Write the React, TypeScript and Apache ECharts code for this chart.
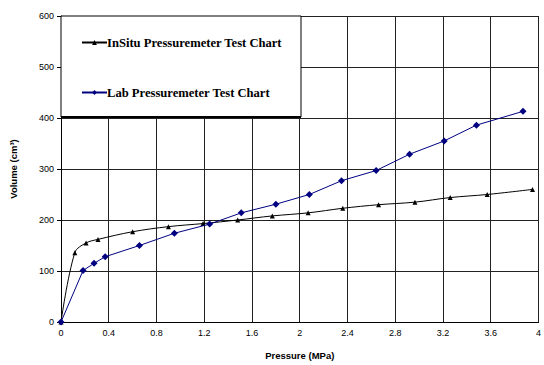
import React, { useEffect, useRef } from "react";
import * as echarts from "echarts";

const insituX = [0, 0.116, 0.21, 0.31, 0.6, 0.9, 1.19, 1.48, 1.77, 2.07, 2.36, 2.66, 2.965, 3.26, 3.57, 3.95];
const insituY = [0, 136, 155, 162, 177, 187, 193, 200, 208, 214, 223, 230, 235, 244, 250, 260];
const labX = [0, 0.185, 0.277, 0.37, 0.657, 0.95, 1.245, 1.51, 1.8, 2.08, 2.35, 2.64, 2.92, 3.21, 3.48, 3.87];
const labY = [0, 101, 115, 128, 150, 174, 192, 214, 231, 250, 277, 297, 329, 355, 386, 413];
const seriesNames = ["InSitu Pressuremeter Test Chart", "Lab Pressuremeter Test Chart"];
const xTitle = "Pressure (MPa)";
const yTitle = "Volume (cm³)";

export default function App() {
  const ref = useRef<HTMLDivElement>(null);
  useEffect(() => {
    const chart = echarts.init(ref.current!, null, { renderer: "svg" });
    const font = "'Liberation Sans', Arial, sans-serif";
    chart.setOption({
      animation: false,
      backgroundColor: "#fff",
      grid: { left: 61, right: 2, top: 16, bottom: 43, containLabel: false },
      xAxis: {
        type: "value",
        min: 0,
        max: 4,
        interval: 0.4,
        name: xTitle,
        nameLocation: "middle",
        nameGap: 28,
        nameTextStyle: { fontFamily: font, fontWeight: "bold", fontSize: 9.5, color: "#000" },
        axisLine: { show: true, lineStyle: { color: "#000", width: 1 } },
        axisTick: { show: false },
        axisLabel: { fontFamily: font, fontSize: 9, color: "#000", margin: 6, formatter: (v: number) => String(Math.round(v * 10) / 10) },
        splitLine: { show: true, lineStyle: { color: "#222", width: 1 } },
      },
      yAxis: {
        type: "value",
        min: 0,
        max: 600,
        interval: 100,
        name: yTitle,
        nameLocation: "middle",
        nameGap: 43,
        nameTextStyle: { fontFamily: font, fontWeight: "bold", fontSize: 9.5, color: "#000" },
        axisLine: { show: true, lineStyle: { color: "#000", width: 1 } },
        axisTick: { show: true, length: 4, lineStyle: { color: "#000" } },
        axisLabel: { fontFamily: font, fontSize: 9, color: "#000", margin: 7 },
        splitLine: { show: true, lineStyle: { color: "#222", width: 1 } },
      },
      graphic: [
        {
          type: "rect",
          z: 3,
          shape: { x: 61, y: 16, width: 240, height: 101 },
          style: { fill: "#fff", stroke: "#000", lineWidth: 1 },
        },
        {
          type: "line",
          z: 3,
          shape: { x1: 61, y1: 117, x2: 301, y2: 117 },
          style: { stroke: "#000", lineWidth: 2 },
        },
      ],
      legend: {
        show: true,
        orient: "vertical",
        left: 76,
        top: 31,
        itemGap: 37,
        itemWidth: 25,
        itemHeight: 6,
        z: 10,
        textStyle: { fontFamily: "'Liberation Serif', 'Times New Roman', serif", fontWeight: "bold", fontSize: 12.6, color: "#000", padding: [0, 0, 0, -5] },
        data: seriesNames,
      },
      series: [
        {
          name: seriesNames[0],
          type: "line",
          smooth: 0.35,
          data: insituX.map((x, i) => [x, insituY[i]]),
          symbol: "triangle",
          symbolSize: 5,
          itemStyle: { color: "#000" },
          lineStyle: { color: "#000", width: 1 },
          z: 5,
        },
        {
          name: seriesNames[1],
          type: "line",
          data: labX.map((x, i) => [x, labY[i]]),
          symbol: "diamond",
          symbolSize: 7,
          itemStyle: { color: "#000080" },
          lineStyle: { color: "#000080", width: 1 },
          z: 6,
        },
      ],
    });
    return () => chart.dispose();
  }, []);
  return <div ref={ref} style={{ width: 544, height: 365, position: "absolute", left: 0, top: 0 }} />;
}
